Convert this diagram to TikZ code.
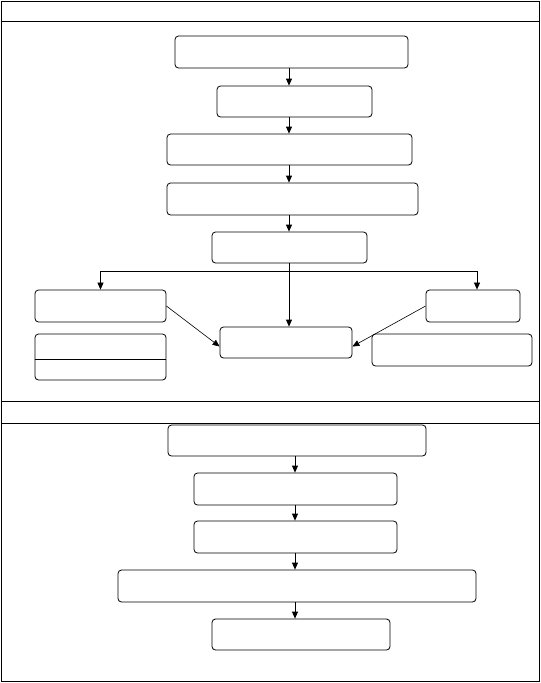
\documentclass[tikz,border=0pt]{standalone}
\usetikzlibrary{arrows.meta}
\begin{document}
\begin{tikzpicture}[x=1pt,y=-1pt,
  box/.style={draw,rounded corners=3.5pt,line width=0.8pt,inner sep=0pt},
  arr/.style={-{Triangle[length=7pt,width=6pt]},line width=0.8pt},
  lane/.style={line width=0.9pt}]
\useasboundingbox (0,0) rectangle (541,683);
% frame and lanes
\draw[lane] (1,1) rectangle (539,681);
\draw[lane] (1,21) -- (539,21);
\draw[lane] (1,401) -- (539,401);
\draw[lane] (1,423) -- (539,423);
% upper lane boxes
\coordinate (ux) at (289,0);
\node[box,minimum width=233pt,minimum height=32pt] (b1) at (291.5,52) {};
\node[box,minimum width=155pt,minimum height=31pt] (b2) at (294.5,101.5) {};
\node[box,minimum width=245pt,minimum height=31pt] (b3) at (289.5,149.5) {};
\node[box,minimum width=251pt,minimum height=32pt] (b4) at (292.5,199) {};
\node[box,minimum width=155pt,minimum height=31pt] (b5) at (289.5,247.5) {};
\node[box,minimum width=131pt,minimum height=32pt] (l1) at (100.5,306) {};
\node[box,minimum width=131pt,minimum height=46pt] (l2) at (100.5,357) {};
\node[box,minimum width=132pt,minimum height=31pt] (c) at (286,342.5) {};
\node[box,minimum width=94pt,minimum height=32pt] (r1) at (473,306) {};
\node[box,minimum width=160pt,minimum height=32pt] (r2) at (452,350) {};
\draw[line width=0.8pt] ([yshift=-2pt]l2.west) -- ([yshift=-2pt]l2.east);
% upper connectors
\draw[arr] (ux |- b1.south) -- (ux |- b2.north);
\draw[arr] (ux |- b2.south) -- (ux |- b3.north);
\draw[arr] (ux |- b3.south) -- (ux |- b4.north);
\draw[arr] (ux |- b4.south) -- (ux |- b5.north);
\coordinate (j) at (289,271);
\draw[arr] (ux |- b5.south) -- (ux |- c.north);
\draw[arr,line width=0.7pt] (j) -| (l1.north);
\draw[arr,line width=0.7pt] (j) -| ([xshift=4pt]r1.north);
\draw[arr,line width=0.6pt] (l1.east) -- ([yshift=-4pt]c.west);
\draw[arr,line width=0.6pt] (r1.west) -- ([yshift=-4pt]c.east);
% lower lane boxes
\node[box,minimum width=258pt,minimum height=31pt] (d1) at (297,440.5) {};
\node[box,minimum width=203pt,minimum height=32pt] (d2) at (295.5,489) {};
\node[box,minimum width=203pt,minimum height=32pt] (d3) at (295.5,537) {};
\node[box,minimum width=358pt,minimum height=32pt] (d4) at (297,586) {};
\node[box,minimum width=178pt,minimum height=31pt] (d5) at (301,634.5) {};
\coordinate (ax) at (295,0);
\draw[arr] (ax |- d1.south) -- (ax |- d2.north);
\draw[arr] (ax |- d2.south) -- (ax |- d3.north);
\draw[arr] (ax |- d3.south) -- (ax |- d4.north);
\draw[arr] (ax |- d4.south) -- (ax |- d5.north);
\end{tikzpicture}
\end{document}
